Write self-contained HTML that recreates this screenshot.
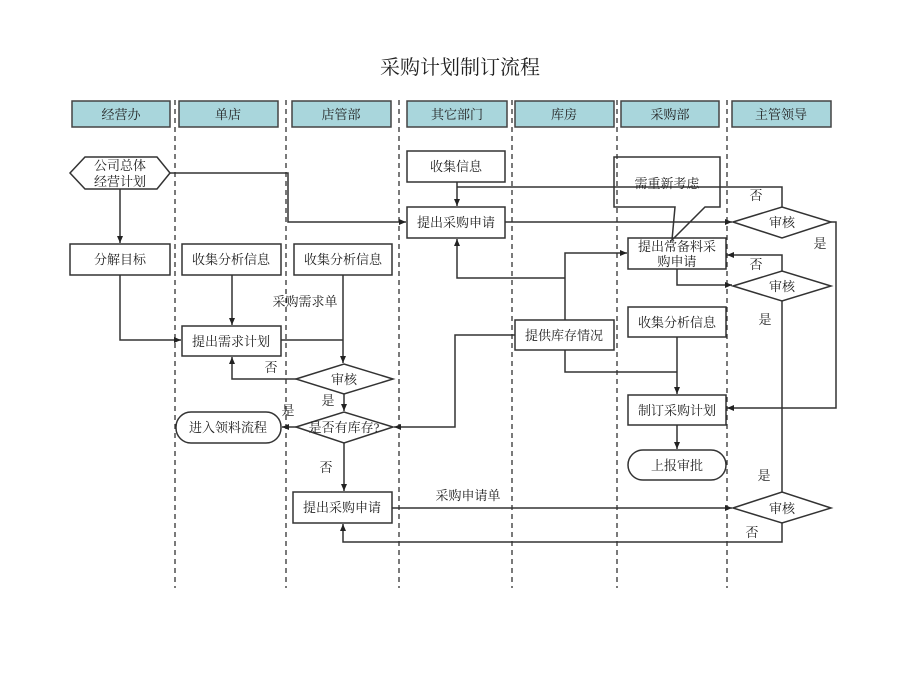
<!DOCTYPE html>
<html><head><meta charset="utf-8"><style>
html,body{margin:0;padding:0;background:#fff}
svg text{font-family:"Liberation Serif","Noto Serif CJK SC","Noto Sans CJK SC",serif;font-size:13px;fill:#222}
</style></head><body>
<svg width="920" height="690" viewBox="0 0 920 690" xmlns="http://www.w3.org/2000/svg">
<defs><marker id="a" markerWidth="8" markerHeight="8" refX="7" refY="4" orient="auto" markerUnits="userSpaceOnUse"><path d="M0,1 L7,4 L0,7 z" fill="#222"/></marker></defs>
<text x="460" y="74" text-anchor="middle" style="font-size:20px">采购计划制订流程</text>
<g fill="#a9d6dc" stroke="#444" stroke-width="1.5">
<rect x="72" y="101" width="98" height="26"/><rect x="179" y="101" width="99" height="26"/><rect x="292" y="101" width="99" height="26"/><rect x="407" y="101" width="100" height="26"/><rect x="515" y="101" width="99" height="26"/><rect x="621" y="101" width="98" height="26"/><rect x="732" y="101" width="99" height="26"/>
</g>
<g text-anchor="middle"><text x="121" y="119">经营办</text><text x="228" y="119">单店</text><text x="341" y="119">店管部</text><text x="457" y="119">其它部门</text><text x="564" y="119">库房</text><text x="670" y="119">采购部</text><text x="781" y="119">主管领导</text></g>
<g stroke="#333" stroke-dasharray="5,4" stroke-width="1.3">
<line x1="175" y1="100" x2="175" y2="588"/><line x1="286" y1="100" x2="286" y2="588"/><line x1="399" y1="100" x2="399" y2="588"/><line x1="512" y1="100" x2="512" y2="588"/><line x1="617" y1="100" x2="617" y2="588"/><line x1="727" y1="100" x2="727" y2="588"/>
</g>
<g fill="#fff" stroke="#333" stroke-width="1.5">
<polygon points="70,173 85,157 157,157 170,173 157,189 85,189"/>
<rect x="70" y="244" width="100" height="31"/>
<rect x="182" y="244" width="99" height="31"/>
<rect x="294" y="244" width="98" height="31"/>
<rect x="407" y="151" width="98" height="31"/>
<rect x="407" y="207" width="98" height="31"/>
<rect x="182" y="326" width="99" height="30"/>
<rect x="515" y="320" width="99" height="30"/>
<rect x="628" y="238" width="98" height="31"/>
<rect x="628" y="307" width="98" height="30"/>
<rect x="628" y="395" width="98" height="30"/>
<rect x="628" y="450" width="98" height="30" rx="15"/>
<rect x="176" y="412" width="105" height="31" rx="15"/>
<rect x="293" y="492" width="99" height="31"/>
<polygon points="296,379 344,364 393,379 344,394"/>
<polygon points="296,427 344,412 393,427 344,443"/>
<polygon points="733,222 782,207 831,222 782,238"/>
<polygon points="733,286 782,271 831,286 782,301"/>
<polygon points="733,508 782,492 831,508 782,523"/>
</g>
<path d="M614,207 L614,157 L720,157 L720,207 L705,207 L672,240 L675,207 Z" fill="none" stroke="#333" stroke-width="1.5"/>
<g fill="none" stroke="#333" stroke-width="1.5">
<path d="M120,189 V243" marker-end="url(#a)"/>
<path d="M170,173 H288 V222 H406" marker-end="url(#a)"/>
<path d="M457,182 V206" marker-end="url(#a)"/>
<path d="M782,207 V187 H457"/>
<path d="M505,222 H732" marker-end="url(#a)"/>
<path d="M831,222 H836 V408 H727" marker-end="url(#a)"/>
<path d="M565,320 V253 H627" marker-end="url(#a)"/>
<path d="M565,278 H457 V239" marker-end="url(#a)"/>
<path d="M565,350 V372 H677"/>
<path d="M677,337 V394" marker-end="url(#a)"/>
<path d="M515,335 H455 V427 H394" marker-end="url(#a)"/>
<path d="M677,269 V285 H732" marker-end="url(#a)"/>
<path d="M782,271 V255 H727" marker-end="url(#a)"/>
<path d="M782,301 V492"/>
<path d="M677,425 V449" marker-end="url(#a)"/>
<path d="M392,508 H732" marker-end="url(#a)"/>
<path d="M782,523 V542 H343 V524" marker-end="url(#a)"/>
<path d="M343,275 V363" marker-end="url(#a)"/>
<path d="M281,340 H343"/>
<path d="M232,275 V325" marker-end="url(#a)"/>
<path d="M120,275 V340 H181" marker-end="url(#a)"/>
<path d="M296,379 H232 V357" marker-end="url(#a)"/>
<path d="M344,394 V411" marker-end="url(#a)"/>
<path d="M296,427 H282" marker-end="url(#a)"/>
<path d="M344,443 V491" marker-end="url(#a)"/>
</g>
<g text-anchor="middle">
<text x="120" y="170">公司总体</text><text x="120" y="186">经营计划</text>
<text x="120" y="264">分解目标</text><text x="231" y="264">收集分析信息</text><text x="343" y="264">收集分析信息</text>
<text x="456" y="171">收集信息</text><text x="456" y="227">提出采购申请</text>
<text x="231" y="346">提出需求计划</text><text x="564" y="340">提供库存情况</text>
<text x="677" y="251">提出常备料采</text><text x="677" y="266">购申请</text>
<text x="677" y="327">收集分析信息</text><text x="677" y="415">制订采购计划</text><text x="677" y="470">上报审批</text>
<text x="228" y="432">进入领料流程</text><text x="342" y="512">提出采购申请</text>
<text x="344" y="384">审核</text><text x="344" y="432">是否有库存?</text>
<text x="782" y="227">审核</text><text x="782" y="291">审核</text><text x="782" y="513">审核</text>
<text x="667" y="188">需重新考虑</text>
<text x="305" y="306">采购需求单</text><text x="468" y="500">采购申请单</text>
<text x="271" y="372">否</text><text x="328" y="405">是</text><text x="288" y="415">是</text><text x="326" y="472">否</text>
<text x="756" y="200">否</text><text x="820" y="248">是</text><text x="756" y="269">否</text><text x="765" y="324">是</text><text x="764" y="480">是</text><text x="752" y="537">否</text>
</g>
</svg>
</body></html>
